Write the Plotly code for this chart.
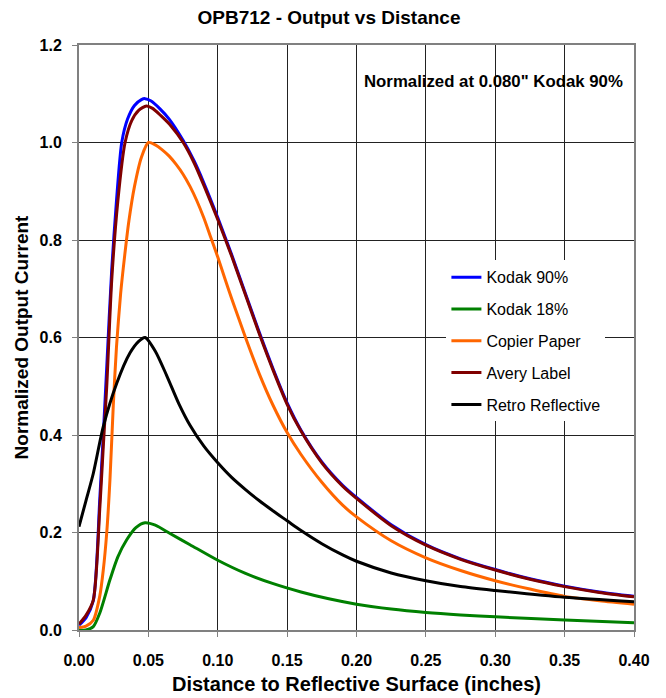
import plotly.graph_objects as go

# ---- data ----
x_k90 = [0.0, 0.005, 0.0103, 0.015, 0.0175, 0.02, 0.0236, 0.027, 0.0308, 0.035, 0.04, 0.045, 0.0476,
         0.052, 0.058, 0.065, 0.0751, 0.083, 0.09, 0.10, 0.11, 0.12, 0.13, 0.14, 0.15,
         0.16, 0.175, 0.19, 0.20, 0.225, 0.25, 0.275, 0.30, 0.325, 0.35, 0.375, 0.40]
y_k90 = [0.01, 0.025, 0.06, 0.27, 0.40, 0.54, 0.74, 0.88, 1.0, 1.048, 1.076, 1.088, 1.09,
         1.085, 1.07, 1.048, 1.004, 0.962, 0.917, 0.846, 0.77, 0.69, 0.61, 0.535, 0.466,
         0.41, 0.345, 0.297, 0.272, 0.216, 0.175, 0.146, 0.124, 0.105, 0.09, 0.078, 0.069]

x_k18 = [0.0, 0.005, 0.0103, 0.015, 0.0223, 0.028, 0.0344, 0.041, 0.0476, 0.055, 0.0656, 0.08,
         0.10, 0.12, 0.14, 0.16, 0.18, 0.20, 0.225, 0.25, 0.275, 0.30, 0.35, 0.40]
y_k18 = [0.0, 0.0, 0.007, 0.035, 0.103, 0.15, 0.185, 0.21, 0.22, 0.215, 0.198, 0.175,
         0.143, 0.116, 0.095, 0.078, 0.064, 0.053, 0.043, 0.036, 0.031, 0.027, 0.0205, 0.015]

x_copier = [0.0, 0.005, 0.0103, 0.015, 0.0175, 0.02, 0.0223, 0.0247, 0.027, 0.030, 0.033, 0.036,
            0.040, 0.045, 0.05, 0.055, 0.06, 0.065, 0.07, 0.075, 0.08, 0.085, 0.09, 0.095, 0.10,
            0.105, 0.11, 0.115, 0.12, 0.13, 0.14, 0.15, 0.16, 0.175, 0.19, 0.20, 0.225,
            0.25, 0.275, 0.30, 0.325, 0.35, 0.375, 0.40]
y_copier = [0.005, 0.008, 0.02, 0.07, 0.123, 0.2, 0.308, 0.46, 0.58, 0.69, 0.77, 0.84,
            0.91, 0.97, 1.0, 0.995, 0.985, 0.972, 0.955, 0.935, 0.91, 0.88, 0.845, 0.805, 0.765,
            0.722, 0.68, 0.64, 0.6, 0.525, 0.46, 0.405, 0.36, 0.303, 0.256, 0.232, 0.183,
            0.148, 0.122, 0.101, 0.084, 0.069, 0.06, 0.053]

x_avery = [0.0, 0.005, 0.0103, 0.015, 0.0175, 0.02, 0.0236, 0.028, 0.0332, 0.038, 0.043, 0.0486,
           0.053, 0.059, 0.066, 0.0751, 0.083, 0.09, 0.10, 0.11, 0.12, 0.13, 0.14, 0.15,
           0.16, 0.175, 0.19, 0.20, 0.225, 0.25, 0.275, 0.30, 0.325, 0.35, 0.375, 0.40]
y_avery = [0.012, 0.03, 0.0615, 0.25, 0.376, 0.5, 0.718, 0.88, 1.0, 1.045, 1.066, 1.075,
           1.07, 1.055, 1.035, 1.0, 0.958, 0.912, 0.842, 0.767, 0.687, 0.607, 0.532, 0.463,
           0.408, 0.343, 0.295, 0.27, 0.214, 0.174, 0.145, 0.123, 0.104, 0.089, 0.077, 0.068]

x_retro = [0.0, 0.005, 0.0103, 0.0175, 0.0272, 0.0367, 0.043, 0.0476, 0.055, 0.0632, 0.072, 0.08,
           0.09, 0.10, 0.11, 0.12, 0.13, 0.14, 0.15, 0.16, 0.175, 0.19, 0.20, 0.225, 0.25,
           0.275, 0.30, 0.35, 0.40]
y_retro = [0.212, 0.265, 0.321, 0.417, 0.506, 0.568, 0.592, 0.600, 0.572, 0.522, 0.464, 0.42,
           0.377, 0.343, 0.313, 0.288, 0.265, 0.244, 0.224, 0.204, 0.177, 0.154, 0.141, 0.117, 0.101,
           0.089, 0.081, 0.067, 0.058]

series = [
    ("Kodak 90%", x_k90, y_k90, "#0000FF"),
    ("Kodak 18%", x_k18, y_k18, "#008000"),
    ("Copier Paper", x_copier, y_copier, "#FF6600"),
    ("Avery Label", x_avery, y_avery, "#800000"),
    ("Retro Reflective", x_retro, y_retro, "#000000"),
]

x_ticks = [0.0, 0.05, 0.10, 0.15, 0.20, 0.25, 0.30, 0.35, 0.40]
x_ticktext = ["0.00", "0.05", "0.10", "0.15", "0.20", "0.25", "0.30", "0.35", "0.40"]
y_ticks = [0.0, 0.2, 0.4, 0.6, 0.8, 1.0, 1.2]
y_ticktext = ["0.0", "0.2", "0.4", "0.6", "0.8", "1.0", "1.2"]

FONT = "Arial, Liberation Sans, Helvetica, sans-serif"

fig = go.Figure()
for name, xs, ys, col in series:
    fig.add_trace(go.Scatter(
        x=xs, y=ys, mode="lines", name=name, legendgroup=name,
        line=dict(color=col, width=3, shape="spline", smoothing=0.7),
    ))

fig.update_layout(
    width=666, height=698,
    margin=dict(l=79, r=32, t=45, b=68),
    paper_bgcolor="white", plot_bgcolor="white",
    font=dict(family=FONT, color="black"),
    title=dict(text="<b>OPB712 - Output vs Distance</b>", x=0.494, xanchor="center",
               y=0.975, yanchor="middle", font=dict(size=19, family=FONT)),
    showlegend=True,
    legend=dict(x=0.662, y=0.632, xanchor="left", yanchor="top",
                bgcolor="white", borderwidth=0, tracegroupgap=8,
                font=dict(size=16, family=FONT), itemwidth=30),
    annotations=[dict(text="<b>Normalized at 0.080\" Kodak 90%</b>", x=0.983, y=0.937,
                      xref="paper", yref="paper", xanchor="right", yanchor="middle",
                      showarrow=False, font=dict(size=16.8, family=FONT))],
)

fig.update_xaxes(
    range=[0, 0.40], tickvals=x_ticks, ticktext=["<b>%s</b>" % t for t in x_ticktext],
    showgrid=True, gridcolor="#222222", gridwidth=1,
    showline=True, linecolor="#808080", linewidth=2, mirror=True,
    ticks="outside", ticklen=5, tickcolor="#808080", ticklabelstandoff=10,
    tickfont=dict(size=16, family=FONT), zeroline=False, automargin=False,
    title=dict(text="<b>Distance to Reflective Surface (inches)</b>",
               font=dict(size=20, family=FONT), standoff=9),
)
fig.update_yaxes(
    range=[0, 1.2], tickvals=y_ticks, ticktext=["<b>%s</b>" % t for t in y_ticktext],
    showgrid=True, gridcolor="#222222", gridwidth=1,
    showline=True, linecolor="#808080", linewidth=2, mirror=True,
    ticks="outside", ticklen=5, tickcolor="#808080", ticklabelstandoff=7,
    tickfont=dict(size=16, family=FONT), zeroline=False, automargin=False,
    title=dict(text="<b>Normalized Output Current</b>",
               font=dict(size=19, family=FONT), standoff=6),
)

fig.write_html("out.html")
